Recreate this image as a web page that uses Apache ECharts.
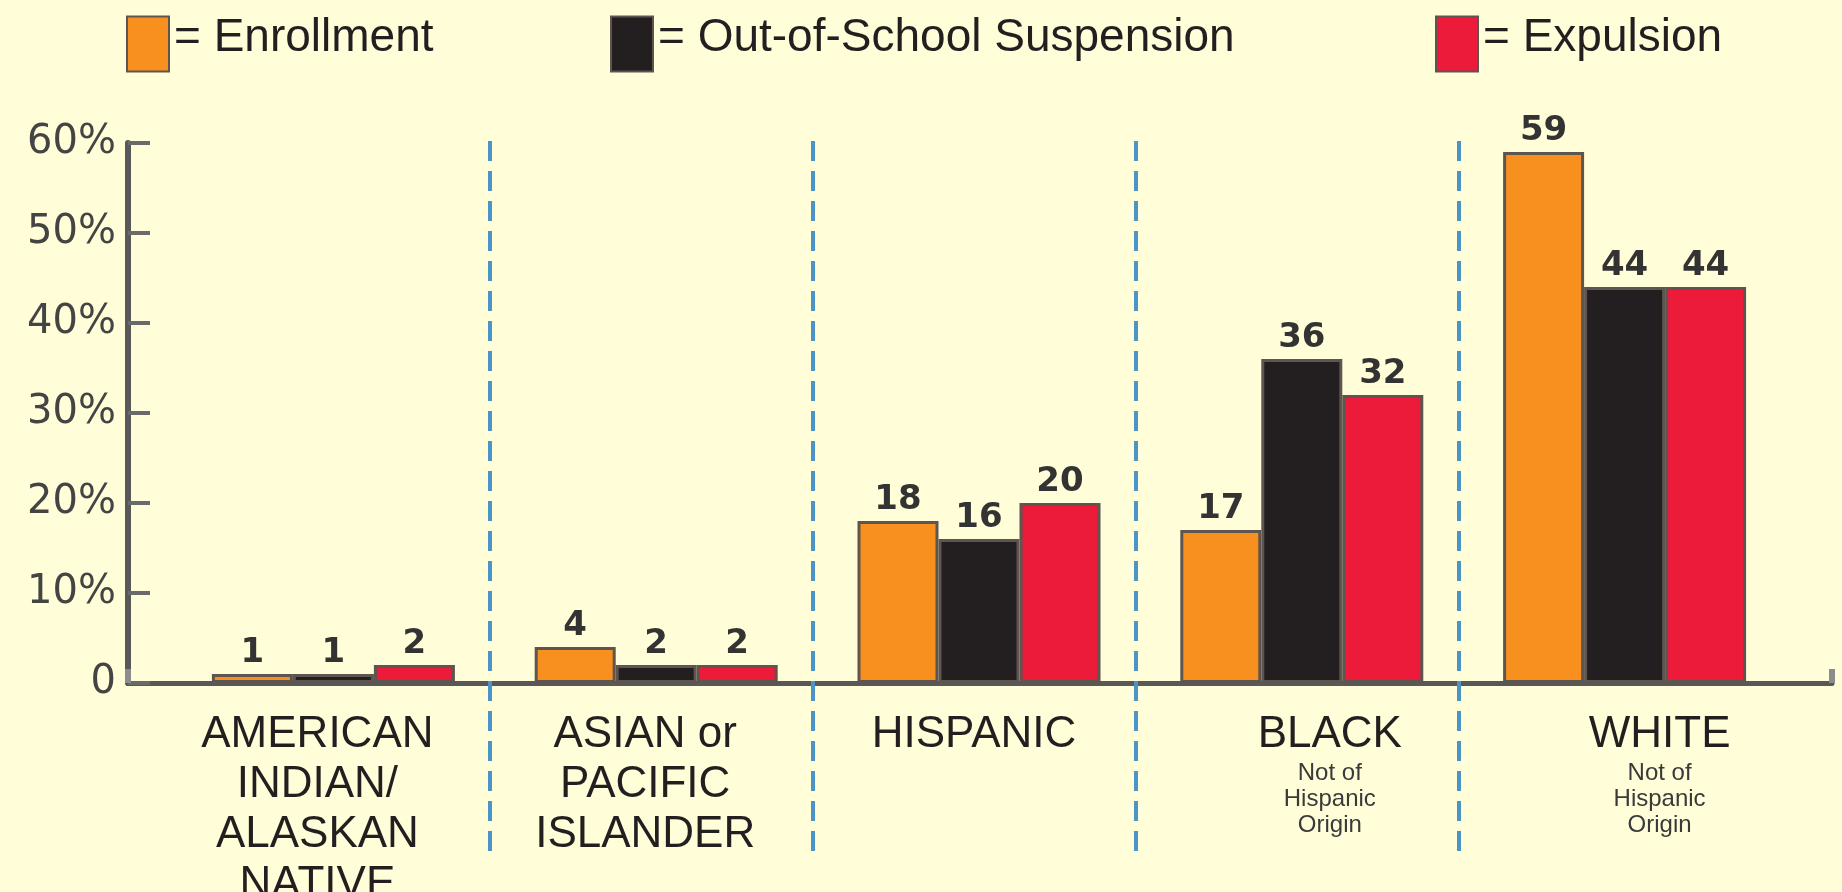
<!DOCTYPE html>
<html>
<head>
<meta charset="utf-8">
<title>Enrollment, suspension and expulsion</title>
<script src="https://cdn.jsdelivr.net/npm/echarts@6/dist/echarts.min.js"></script>
<style>
	html, body { margin: 0; padding: 0; background: #fffed8; }
	#main { width: 1842px; height: 892px; }
</style>
</head>
<body>
<div id="main"></div>
<script>
	// data (percent)
	var categories = ['AMERICAN\nINDIAN/\nALASKAN\nNATIVE', 'ASIAN or\nPACIFIC\nISLANDER', 'HISPANIC', 'BLACK', 'WHITE'];
	var notes = ['', '', '', 'Not of\nHispanic\nOrigin', 'Not of\nHispanic\nOrigin'];
	var enrollment = [1, 4, 18, 17, 59];
	var suspension = [1, 2, 16, 36, 44];
	var expulsion = [2, 2, 20, 32, 44];
	var seriesNames = ['Enrollment', 'Out-of-School Suspension', 'Expulsion'];

	// separators sit between neighbouring groups
	var boundaries = categories.slice(1).map(function (c, i) { return i + 0.5; });

	// small nudges of the group captions, as in the original artwork
	var captionShift = [-16, -11, -5, 28, 35];

	var rich = {};
	captionShift.forEach(function (s, i) {
		var pad = s > 0 ? [0, 0, 0, 2 * s] : [0, -2 * s, 0, 0];
		rich['a' + i] = { fontFamily: 'Liberation Sans', fontSize: 44, lineHeight: 50, color: '#231f20', align: 'center', padding: pad };
		rich['b' + i] = { fontFamily: 'Liberation Sans Narrow, Liberation Sans', fontSize: 24, lineHeight: 26, color: '#3a3a3a', align: 'center', padding: pad };
	});

	var barBorder = '#5e5450';
	var valueLabel = {
		show: true,
		position: 'top',
		distance: 4,
		fontFamily: 'DejaVu Sans',
		fontWeight: 'bold',
		fontSize: 34,
		color: '#333333'
	};

	function bar(name, data, color) {
		return {
			name: name,
			type: 'bar',
			data: data,
			barWidth: 81,
			barGap: '0%',
			itemStyle: { color: color, borderColor: barBorder, borderWidth: 3 },
			label: valueLabel
		};
	}

	var legendBase = {
		icon: 'rect',
		itemWidth: 42,
		itemHeight: 55,
		top: 10,
		formatter: '{t|= {name}}',
		selectedMode: false,
		textStyle: {
			rich: {
				t: { fontFamily: 'Liberation Sans', fontSize: 46, color: '#231f20', padding: [0, 0, 12, 0] }
			}
		}
	};

	var myChart = echarts.init(document.getElementById('main'));
	var option = {
		backgroundColor: '#fffed8',
		animation: false,
		legend: [
			Object.assign({ data: [seriesNames[0]], left: 121 }, legendBase),
			Object.assign({ data: [seriesNames[1]], left: 605 }, legendBase),
			Object.assign({ data: [seriesNames[2]], left: 1430 }, legendBase)
		],
		grid: [
			{ left: 172, right: 56, top: 143, bottom: 209, outerBoundsMode: 'none' },   // bars
			{ left: 128, right: 10, top: 143, bottom: 209, outerBoundsMode: 'none' },   // long x axis line
			{ left: 167, right: 60, top: 136, bottom: 41, outerBoundsMode: 'none' }     // dashed separators
		],
		xAxis: [{
			type: 'category',
			gridIndex: 0,
			data: categories,
			axisLine: { show: false },
			axisTick: { show: false },
			axisLabel: {
				interval: 0,
				margin: 27,
				formatter: function (value, idx) {
					var out = value.split('\n').map(function (l) { return '{a' + idx + '|' + l + '}'; });
					if (notes[idx]) {
						out = out.concat(notes[idx].split('\n').map(function (l) { return '{b' + idx + '|' + l + '}'; }));
					}
					return out.join('\n');
				},
				rich: rich
			}
		}, {
			type: 'value',
			gridIndex: 1,
			min: 0,
			max: 1,
			interval: 1,
			axisLine: { show: true, lineStyle: { color: '#58585a', width: 5 } },
			axisTick: { show: true, inside: true, length: 14, lineStyle: { color: '#8c8c8c', width: 6 } },
			axisLabel: { show: false },
			splitLine: { show: false }
		}, {
			type: 'value',
			gridIndex: 2,
			min: -0.5,
			max: categories.length - 0.5,
			show: false
		}],
		yAxis: [{
			type: 'value',
			gridIndex: 0,
			min: 0,
			max: 60,
			interval: 10,
			offset: 44,
			axisLine: { show: true, lineStyle: { color: '#58585a', width: 6 } },
			axisTick: { show: true, inside: true, length: 22, lineStyle: { color: '#6a6a6a', width: 4 } },
			splitLine: { show: false },
			axisLabel: {
				margin: 12,
				fontFamily: 'DejaVu Sans',
				fontSize: 40,
				color: '#444444',
				formatter: function (v) { return v === 0 ? '0' : v + '%'; }
			}
		}, {
			type: 'value',
			gridIndex: 1,
			min: 0,
			max: 1,
			show: false
		}, {
			type: 'value',
			gridIndex: 2,
			min: 0,
			max: 1,
			show: false
		}],
		series: [
			bar(seriesNames[0], enrollment, '#f7901e'),
			bar(seriesNames[1], suspension, '#231f20'),
			bar(seriesNames[2], expulsion, '#ed1b3a'),
			{
				type: 'line',
				xAxisIndex: 2,
				yAxisIndex: 2,
				data: [],
				silent: true,
				markLine: {
					silent: true,
					symbol: 'none',
					label: { show: false },
					lineStyle: { color: '#4b94c8', width: 4, type: [20, 10] },
					data: boundaries.map(function (b) { return { xAxis: b }; })
				}
			}
		]
	};
	myChart.setOption(option);
</script>
</body>
</html>
